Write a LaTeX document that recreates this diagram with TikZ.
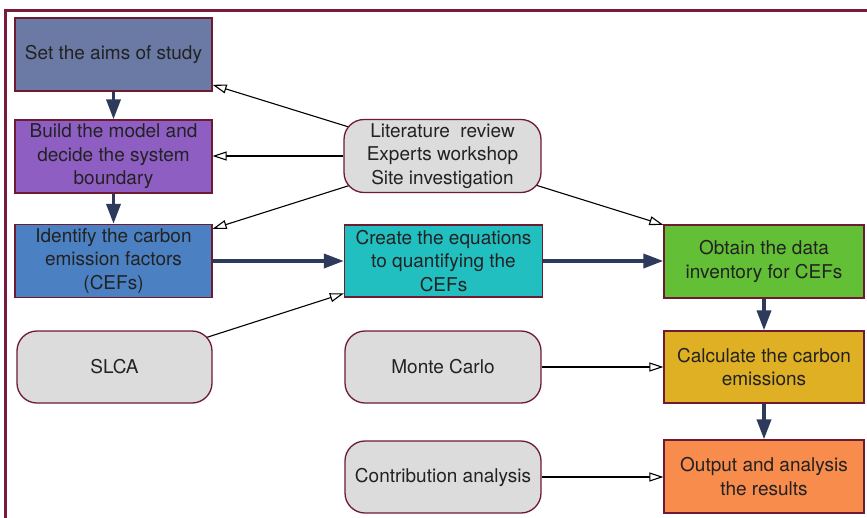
\documentclass[tikz,border=0pt]{standalone}
\usepackage{fontspec}
\setmainfont{TeX Gyre Heros}
\usetikzlibrary{arrows.meta,calc,backgrounds}

\definecolor{frameRed}{HTML}{7A1A3C}
\definecolor{edgeRed}{HTML}{6E1A30}
\definecolor{navy}{HTML}{2E3A5C}
\definecolor{cAims}{HTML}{6A7AA4}
\definecolor{cBuild}{HTML}{8E5EC2}
\definecolor{cIdent}{HTML}{4B80C2}
\definecolor{cCreate}{HTML}{22BFC0}
\definecolor{cObtain}{HTML}{63BF35}
\definecolor{cCalc}{HTML}{DFB024}
\definecolor{cOut}{HTML}{F88C4C}
\definecolor{cGray}{HTML}{DCDCDC}
\definecolor{ink}{HTML}{222222}

\begin{document}
\begin{tikzpicture}[x=1pt,y=-1pt,
  box/.style={draw=edgeRed,line width=1.3pt,minimum width=197pt,minimum height=73pt,
    inner sep=0pt,align=center,text=ink,font=\fontsize{19}{23.5}\selectfont},
  soft/.style={box,fill=cGray,rounded corners=20pt},
  flow/.style={navy,line width=3.6pt,-{Triangle[length=20pt,width=14pt]}},
  feed/.style={black,line width=1.1pt,-{Triangle[open,length=14pt,width=9pt,fill=white]}}]

\useasboundingbox (0,0) rectangle (867,517);

% outer frame (open towards right and bottom)
\draw[frameRed,line width=3pt,line join=miter] (870,10.5) -- (5.5,10.5) -- (5.5,520);

% process steps
\node[box,fill=cAims] (aims) at (113.5,54.5) {Set the aims of study};
\node[box,fill=cBuild] (build) at (113.5,156.5) {Build the model and\\decide the system\\boundary};
\node[box,fill=cIdent] (ident) at (113.5,261) {Identify the carbon\\emission factors\\(CEFs)};
\node[box,fill=cCreate,minimum width=198pt,minimum height=72pt] (create) at (443.5,261)
  {Create the equations\\to quantifying the\\CEFs};
\node[box,fill=cObtain,minimum width=200pt] (obtain) at (764,261.5) {Obtain the data\\inventory for CEFs};
\node[box,fill=cCalc,minimum width=200pt,minimum height=72pt] (calc) at (764,367) {Calculate the carbon\\emissions};
\node[box,fill=cOut,minimum width=200pt] (output) at (764,476.5) {Output and analysis\\the results};

% methods and sources
\node[soft] (lit) at (442.5,156) {Literature\ \ review\\Experts workshop\\Site investigation};
\node[soft,minimum width=195pt,minimum height=72pt] (slca) at (114.5,367) {SLCA};
\node[soft,minimum width=196pt,minimum height=72pt] (monte) at (443,367) {Monte Carlo};
\node[soft,minimum width=196pt,minimum height=72pt] (contrib) at (443,477) {Contribution analysis};

% slanted feeds start behind their rounded source boxes
\begin{scope}[on background layer]
  \draw[feed] (lit.center) -- (aims.-17);
  \draw[feed] (lit.center) -- (ident.18);
  \draw[feed] (lit.center) -- (obtain.160.5);
  \draw[feed] (slca.center) -- (create.198);
\end{scope}

\draw[feed] (lit.west) -- (lit.west -| build.east);
\draw[feed] (monte.east) -- (calc.west);
\draw[feed] (contrib.east) -- (contrib.east -| output.west);

% main flow
\draw[flow] (aims.south) -- (build.north);
\draw[flow] (build.south) -- (ident.north);
\draw[flow] (ident.east) -- (create.west);
\draw[flow] (create.east) -- (create.east -| obtain.west);
\draw[flow] (obtain.south) -- (calc.north);
\draw[flow] (calc.south) -- (output.north);
\end{tikzpicture}
\end{document}
